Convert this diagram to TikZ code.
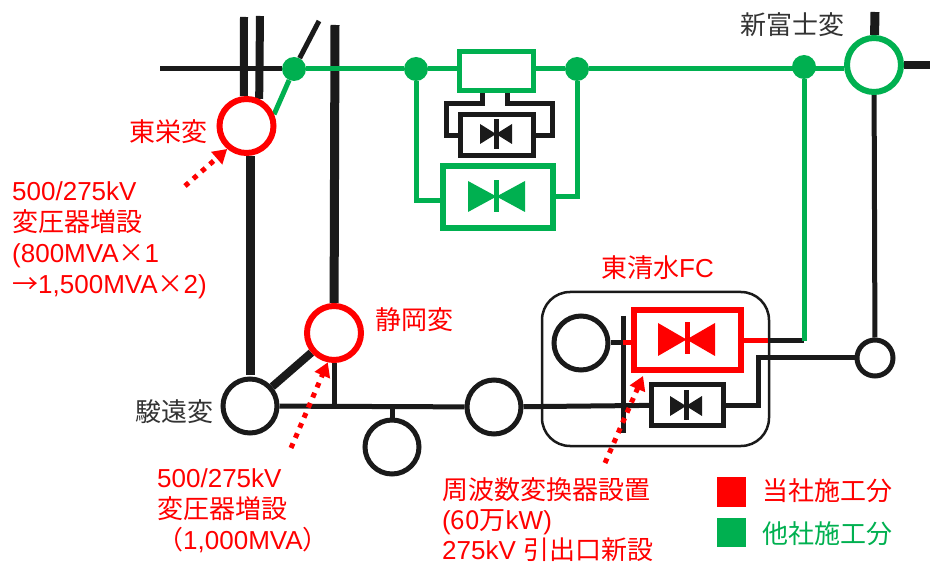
\documentclass[tikz,border=0pt]{standalone}
\usepackage{fontspec}
\usepackage{xcolor}
\usepackage{tikz}
\usetikzlibrary{arrows.meta,backgrounds}
\setmainfont{Liberation Sans}
\newfontfamily\jpfont{Noto Sans CJK JP}
\definecolor{gridred}{HTML}{FF0000}
\definecolor{gridgreen}{HTML}{00B050}
\definecolor{gridblack}{HTML}{1A1A1A}
\definecolor{gridtext}{HTML}{333333}
\tikzset{
  station/.style={circle,draw=gridblack,line width=5pt,fill=white,minimum size=54pt,inner sep=0pt},
  stationred/.style={station,draw=gridred,line width=6pt},
  stationgreen/.style={station,draw=gridgreen,line width=6pt},
  tapdot/.style={circle,fill=gridgreen,minimum size=24pt,inner sep=0pt},
  convbox/.style={rectangle,draw=gridblack,line width=5pt,fill=white,inner sep=0pt},
  wire/.style={gridblack,line width=5pt},
  trunk/.style={gridblack,line width=9pt},
  wiregreen/.style={gridgreen,line width=5pt},
  wirered/.style={gridred,line width=5pt},
  callout/.style={gridred,line width=5pt,dash pattern=on 5pt off 6pt,-{Triangle[length=14pt,width=16pt]}},
  note/.style={font=\fontsize{26}{31}\selectfont,inner sep=0pt,align=left},
  notered/.style={note,text=gridred},
  notegreen/.style={note,text=gridgreen},
  notedark/.style={note,text=gridtext},
  legendbox/.style={rectangle,minimum size=29.5pt,inner sep=0pt}
}

\begin{document}
\begin{tikzpicture}[x=1pt,y=-1pt]
    \useasboundingbox (0,0) rectangle (930,564);
    % postes
    \node[stationred]   (toei)     at (246.5,126) {};
    \node[stationred]   (shizuoka) at (334,333)   {};
    \node[stationgreen] (fuji)     at (874,65)    {};
    \node[station]      (sunto)    at (250,406)   {};
    \node[station]      (south)    at (392,447)   {};
    \node[station]      (east)     at (494,407)   {};
    \node[station]      (fcgen)    at (581,343)   {};
    \node[station,minimum size=36pt] (small) at (875,358) {};
    % points de piquage
    \node[tapdot] (dotA) at (294,69)  {};
    \node[tapdot] (dotB) at (416,69)  {};
    \node[tapdot] (dotC) at (577,69)  {};
    \node[tapdot] (dotD) at (804,67)  {};
    % convertisseurs
    \node[convbox,draw=gridgreen,minimum width=74pt,minimum height=39pt] (upbox) at (496.5,71) {};
    \node[convbox,minimum width=73pt,minimum height=41pt] (upconv) at (497,135) {};
    \node[convbox,draw=gridgreen,line width=6pt,minimum width=110pt,minimum height=62pt] (lowconv) at (498,197) {};
    \node[convbox,draw=gridred,line width=6pt,minimum width=107pt,minimum height=60pt] (fcred) at (687.5,340) {};
    \node[convbox,minimum width=72pt,minimum height=41pt] (fcblack) at (687.5,405) {};
    % points libres
    \coordinate (lineA)  at (244,17);
    \coordinate (lineB)  at (260,16);
    \coordinate (busW)   at (160,69);
    \coordinate (branch) at (319,21);
    \coordinate (trunkN) at (335,25);
    \coordinate (fujiN)  at (875,12);
    \coordinate (fujiE)  at (930,65);
    \coordinate (stubL)  at (482,104);
    \coordinate (stubR)  at (507,104);
    \coordinate (sideL)  at (446,136);
    \coordinate (sideR)  at (552,136);
    \coordinate (cornerL) at (416,201);
    \coordinate (cornerR) at (577,197);
    \coordinate (barN)   at (623,316);
    \coordinate (barS)   at (623,433);
    \coordinate (fcport) at (768,341);
    \coordinate (turn)   at (758,358);
    % lignes noires
    \begin{scope}[on background layer]
    \draw[rounded corners=28pt,gridblack,line width=2.5pt,fill=white] (542,292) rectangle (769,446);
    \draw[wire] (busW) -- (dotA);
    \draw[wire] (dotA) -- (branch);
    \draw[gridblack,line width=8pt] (lineA) -- (toei.95);
    \draw[gridblack,line width=8pt] (lineB) -- (toei.65);
    \draw[trunk] (trunkN) -- (shizuoka);
    \draw[trunk,shorten >=2pt] (toei.south -| sunto) -- (sunto);
    \draw[gridblack,line width=8pt] (sunto) -- (shizuoka);
    \draw[wire] (shizuoka) -- (shizuoka |- sunto);
    \draw[wire] (sunto) -- (east);
    \draw[wire] (south) -- (south |- sunto);
    \draw[wire] (east) -- (fcblack);
    \draw[wire] (barN) -- (barS);
    \draw[wire] (fcgen) -- (fcgen -| barN);
    \draw[wire] (fcblack) -- (fcblack -| turn) -- (turn) -- (small);
    \draw[trunk] (fujiN) -- (fuji);
    \draw[gridblack,line width=8pt] (fuji) -- (fujiE);
    \draw[wire] (fuji) -- (small);
    \draw[wire] (fcport) -- (fcport -| dotD);
    \draw[wire] (stubL |- upbox.south) -- (stubL) -- (stubL -| sideL) -- (sideL) -- (sideL -| upconv.west);
    \draw[wire] (stubR |- upbox.south) -- (stubR) -- (stubR -| sideR) -- (sideR) -- (sideR -| upconv.east);
    % lignes vertes et rouges
    \draw[wiregreen] (dotA) -- (toei.23);
    \draw[wiregreen] (dotA) -- (dotB);
    \draw[wiregreen] (dotB) -- (upbox.west |- dotB);
    \draw[wiregreen] (upbox.east |- dotC) -- (dotC);
    \draw[wiregreen] (dotC) -- (dotD |- dotC) -- (fuji.west |- dotC);
    \draw[wiregreen] (dotB) -- (cornerL) -- (cornerL -| lowconv.west);
    \draw[wiregreen] (dotC) -- (cornerR) -- (cornerR -| lowconv.east);
    \draw[wiregreen] (dotD) -- (dotD |- fcport);
    \draw[wirered] (fcgen -| barN) -- (fcgen -| fcred.west);
    \draw[wirered] (fcport -| fcred.east) -- (fcport);
    \end{scope}
    % vannes
    \fill[gridblack] (480,124) -- (512,144) -- (512,124) -- (480,144) -- cycle;
    \fill[gridblack] (494,119) rectangle (499,149);
    \fill[gridgreen] (468,181) -- (525,212) -- (525,181) -- (468,212) -- cycle;
    \fill[gridgreen] (494,180) rectangle (499,212);
    \fill[gridred]   (658,323) -- (715,356) -- (715,323) -- (658,356) -- cycle;
    \fill[gridred]   (684.5,322) rectangle (689.5,354);
    \fill[gridblack] (670,396) -- (702,416) -- (702,396) -- (670,416) -- cycle;
    \fill[gridblack] (684,390) rectangle (688.5,420);
    % textes
    \node[notered,anchor=west] (toeiname) at (129,132) {\jpfont 東栄変};
    \node[notered,anchor=west] (shizname) at (375,320) {\jpfont 静岡変};
    \node[notedark,anchor=west] (suntoname) at (135,412) {\jpfont 駿遠変};
    \node[notedark,anchor=west] (fujiname) at (740,25) {\jpfont 新富士変};
    \node[notered,anchor=west] (fcname) at (601,268) {{\jpfont 東清水}FC};
    \node[notered,anchor=north west] (noteA) at (12,181) {500/275kV\\{\jpfont 変圧器増設}\\(800MVA{\jpfont ×}1\\{\jpfont →}1,500MVA{\jpfont ×}2)};
    \node[notered,anchor=north west] (noteB) at (157,468) {500/275kV\\{\jpfont 変圧器増設}\\{\jpfont （}1,000MVA{\jpfont ）}};
    \node[notered,anchor=north west,font=\fontsize{26}{30}\selectfont] (noteC) at (442,477) {{\jpfont 周波数変換器設置}\\({\jpfont 60万}kW)\\275kV {\jpfont 引出口新設}};
    % fleches pointillees
    \coordinate (tailA) at (185,186);
    \coordinate (tailB) at (291,448);
    \coordinate (tailC) at (605,463);
    \coordinate (tipC)  at (643,376);
    \draw[callout] (tailA) -- (toei.230);
    \draw[callout] (tailB) -- (shizuoka.258);
    \draw[callout] (tailC) -- (tipC);
    % legende
    \node[legendbox,fill=gridred]   (keyred)   at (731.5,492) {};
    \node[legendbox,fill=gridgreen] (keygreen) at (731.5,532.5) {};
    \node[notered,anchor=west] (keyredname)   at (762,491) {\jpfont 当社施工分};
    \node[notegreen,anchor=west] (keygreenname) at (762,534) {\jpfont 他社施工分};
  \end{tikzpicture}
\end{document}
